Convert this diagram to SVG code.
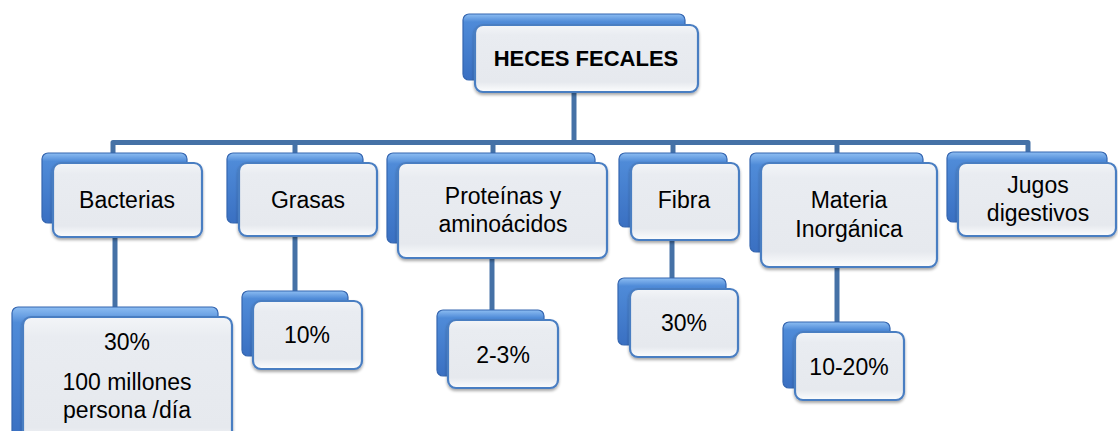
<svg xmlns="http://www.w3.org/2000/svg" width="1118" height="431" viewBox="0 0 1118 431">
<defs>
<linearGradient id="gBack" x1="0" y1="0" x2="0" y2="1">
<stop offset="0" stop-color="#8dbdf2"/>
<stop offset="0.12" stop-color="#4f8bd8"/>
<stop offset="1" stop-color="#3a70c2"/>
</linearGradient>
<linearGradient id="gFront" x1="0" y1="0" x2="0" y2="1">
<stop offset="0" stop-color="#f3f5f8"/>
<stop offset="0.15" stop-color="#e9ecf1"/>
<stop offset="0.85" stop-color="#e6e9ee"/>
<stop offset="1" stop-color="#fcfdfe"/>
</linearGradient>
<filter id="sh" x="-10%" y="-10%" width="120%" height="130%">
<feGaussianBlur in="SourceAlpha" stdDeviation="1.5"/>
<feOffset dx="0" dy="2" result="b"/>
<feComponentTransfer><feFuncA type="linear" slope="0.35"/></feComponentTransfer>
<feMerge><feMergeNode/><feMergeNode in="SourceGraphic"/></feMerge>
</filter>
</defs>
<style>
.back{fill:url(#gBack);stroke:#3566b0;stroke-width:1.2}
.front{fill:url(#gFront);stroke:#4a7ec2;stroke-width:2.2;filter:url(#sh)}
.t{font-family:"Liberation Sans",Arial,sans-serif;font-size:23px;fill:#000;text-anchor:middle}
.tb{font-family:"Liberation Sans",Arial,sans-serif;font-size:22px;font-weight:bold;fill:#000;text-anchor:middle}
.con{fill:none;stroke:#4571a6;stroke-width:5;stroke-linejoin:round}
</style>
<g id="connectors">
<path class="con" d="M574 80 V142.5"/>
<path class="con" d="M113 156 V142.5 H1028 V156"/>
<path class="con" d="M295 142.5 V156"/>
<path class="con" d="M493 142.5 V156"/>
<path class="con" d="M673 142.5 V156"/>
<path class="con" d="M837 142.5 V156"/>
<path class="con" d="M115 225 V310"/>
<path class="con" d="M295 225 V294"/>
<path class="con" d="M492 245 V313"/>
<path class="con" d="M672 229 V281"/>
<path class="con" d="M837 254 V325"/>
</g>
<g id="heces">
<rect class="back" x="463" y="14" width="222" height="66" rx="6"/>
<rect class="front" x="475" y="25" width="223" height="67" rx="8"/>
<text class="tb" x="586" y="66">HECES FECALES</text>
</g>
<g id="bacterias">
<rect class="back" x="42" y="153" width="145" height="70" rx="6"/>
<rect class="front" x="53" y="163" width="149" height="74" rx="8"/>
<text class="t" x="127" y="208">Bacterias</text>
</g>
<g id="grasas">
<rect class="back" x="227" y="153" width="136" height="70" rx="6"/>
<rect class="front" x="239" y="163" width="138" height="73" rx="8"/>
<text class="t" x="308" y="208">Grasas</text>
</g>
<g id="proteinas">
<rect class="back" x="387" y="153" width="208" height="90" rx="6"/>
<rect class="front" x="398" y="163" width="209" height="95" rx="8"/>
<text class="t" x="503" y="204">Proteínas y</text>
<text class="t" x="503" y="232">aminoácidos</text>
</g>
<g id="fibra">
<rect class="back" x="619" y="153" width="108" height="74" rx="6"/>
<rect class="front" x="631" y="163" width="108" height="77" rx="8"/>
<text class="t" x="684" y="208">Fibra</text>
</g>
<g id="materia">
<rect class="back" x="750" y="153" width="173" height="99" rx="6"/>
<rect class="front" x="761" y="163" width="176" height="104" rx="8"/>
<text class="t" x="849" y="208">Materia</text>
<text class="t" x="849" y="237">Inorgánica</text>
</g>
<g id="jugos">
<rect class="back" x="947" y="152" width="160" height="70" rx="6"/>
<rect class="front" x="958" y="163" width="158" height="73" rx="8"/>
<text class="t" x="1038" y="193">Jugos</text>
<text class="t" x="1038" y="221">digestivos</text>
</g>
<g id="bacterias-valor">
<rect class="back" x="12" y="307" width="206" height="130" rx="6"/>
<rect class="front" x="23" y="317" width="209" height="130" rx="8"/>
<text class="t" x="127" y="350">30%</text>
<text class="t" x="127" y="390">100 millones</text>
<text class="t" x="127" y="418">persona /día</text>
</g>
<g id="grasas-valor">
<rect class="back" x="242" y="291" width="106" height="65" rx="6"/>
<rect class="front" x="253" y="301" width="109" height="68" rx="8"/>
<text class="t" x="307" y="343">10%</text>
</g>
<g id="proteinas-valor">
<rect class="back" x="437" y="310" width="107" height="66" rx="6"/>
<rect class="front" x="448" y="320" width="110" height="68" rx="8"/>
<text class="t" x="503" y="363">2-3%</text>
</g>
<g id="fibra-valor">
<rect class="back" x="618" y="278" width="108" height="67" rx="6"/>
<rect class="front" x="630" y="289" width="108" height="68" rx="8"/>
<text class="t" x="684" y="331">30%</text>
</g>
<g id="materia-valor">
<rect class="back" x="783" y="322" width="107" height="66" rx="6"/>
<rect class="front" x="795" y="332" width="109" height="68" rx="8"/>
<text class="t" x="849" y="375">10-20%</text>
</g>
</svg>
